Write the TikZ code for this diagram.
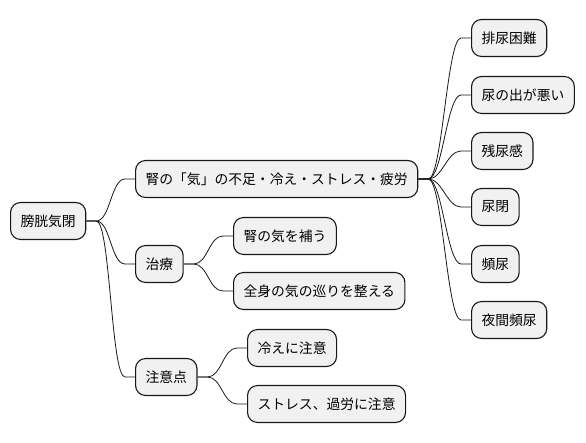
\documentclass[tikz,border=0pt]{standalone}
\usepackage{fontspec}
\setmainfont{Noto Sans CJK JP}
\usepackage{tikz}
\usetikzlibrary{calc}
\definecolor{NodeBg}{RGB}{241,241,241}
\definecolor{EdgeInk}{RGB}{24,24,24}

\tikzset{
  topic/.style={draw=EdgeInk,fill=NodeBg,line width=1.1pt,rounded corners=10pt,
    minimum height=37pt,inner xsep=10pt,anchor=west,
    font=\fontsize{13.8}{16}\selectfont},
  branch/.style={draw=EdgeInk,line width=0.8pt,
    to path={-- ++(10pt,0) .. controls +(14pt,0) and +(-14pt,0)
      .. ($(\tikztotarget)+(-10pt,0)$) -- (\tikztotarget)}}
}

\begin{document}
\begin{tikzpicture}[x=1pt,y=-1pt]
  \useasboundingbox (0,0) rectangle (586,443);

  % root and first level
  \node[topic] (root)  at (10,221)  {膀胱気閉};
  \node[topic] (cause) at (135,179) {腎の「気」の不足・冷え・ストレス・疲労};
  \node[topic] (cure)  at (135,264) {治療};
  \node[topic] (care)  at (135,377) {注意点};

  % symptoms
  \node[topic] (s1) at (471,38)  {排尿困難};
  \node[topic] (s2) at (471,95)  {尿の出が悪い};
  \node[topic] (s3) at (471,151) {残尿感};
  \node[topic] (s4) at (471,207) {尿閉};
  \node[topic] (s5) at (471,264) {頻尿};
  \node[topic] (s6) at (471,320) {夜間頻尿};

  % treatment and care
  \node[topic] (c1) at (233,236) {腎の気を補う};
  \node[topic] (c2) at (233,291) {全身の気の巡りを整える};
  \node[topic] (k1) at (247,348) {冷えに注意};
  \node[topic] (k2) at (247,404) {ストレス、過労に注意};

  \foreach \t in {cause,cure,care}
    \draw[branch] (root.east) to (\t.west);
  \foreach \t in {s1,s2,s3,s4,s5,s6}
    \draw[branch] (cause.east) to (\t.west);
  \foreach \t in {c1,c2}
    \draw[branch] (cure.east) to (\t.west);
  \foreach \t in {k1,k2}
    \draw[branch] (care.east) to (\t.west);
\end{tikzpicture}
\end{document}
